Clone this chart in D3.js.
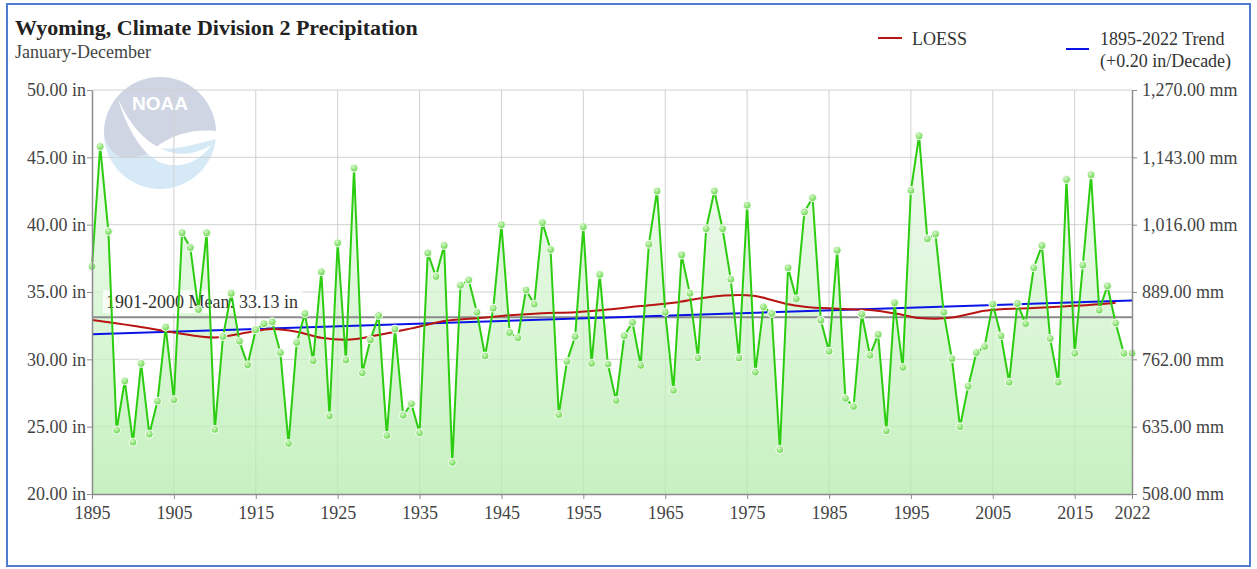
<!DOCTYPE html>
<html><head><meta charset="utf-8">
<script src="https://cdn.jsdelivr.net/npm/d3@7"></script>
<style>
body{margin:0;background:#fff;}
svg{display:block;font-family:"Liberation Serif","Times New Roman",serif;}
</style>
</head><body>
<svg id="chart" width="1257" height="569"></svg>
<script>
// ---------------- DATA ----------------
const years = d3.range(1895, 2023);
const precip = [
 36.9,45.8,39.5,24.75,28.4,23.85,29.7,24.45,26.9,32.4,
 27.0,39.4,38.3,33.7,39.4,24.8,31.7,34.9,31.35,29.6,
 32.2,32.65,32.8,30.5,23.75,31.25,33.4,29.9,36.5,25.8,
 38.65,29.95,44.2,29.0,31.45,33.25,24.35,32.25,25.85,26.7,
 24.55,37.9,36.15,38.45,22.35,35.5,35.9,33.5,30.25,33.8,
 40.0,32.0,31.6,35.15,34.1,40.15,38.15,25.9,29.85,31.7,
 39.85,29.7,36.3,29.65,26.95,31.75,32.75,29.55,38.55,42.5,
 33.5,27.7,37.75,34.9,30.1,39.7,42.5,39.7,35.95,30.1,
 41.45,29.05,33.9,33.4,23.3,36.8,34.5,40.95,42.0,32.9,
 30.6,38.1,27.1,26.5,33.35,30.3,31.85,24.7,34.2,29.4,
 42.55,46.6,38.95,39.3,33.5,30.05,25.0,28.0,30.5,30.95,
 34.1,31.75,28.3,34.15,32.65,36.8,38.45,31.55,28.3,43.35,
 30.45,37.0,43.7,33.65,35.45,32.7,30.45,30.45
];
const loessYears  = [1895,1900,1905,1910,1914,1917,1920,1923,1926,1930,1934,1938,1942,1946,1950,1954,1958,1962,1966,1970,1974,1976,1978,1980,1982,1986,1990,1994,1996,1998,2000,2002,2004,2006,2010,2014,2018,2020];
const loessValues = [32.93,32.5,32.0,31.62,32.0,32.25,32.05,31.6,31.45,31.8,32.3,32.85,33.05,33.27,33.42,33.5,33.7,33.96,34.2,34.6,34.78,34.7,34.41,34.09,33.91,33.76,33.67,33.3,33.07,33.02,33.1,33.35,33.6,33.72,33.81,33.94,34.09,34.2];
const trendYears  = [1895, 2022];
const trendValues = [31.86, 34.36];
const meanValue = 33.13;
const xTickYears = [1895,1905,1915,1925,1935,1945,1955,1965,1975,1985,1995,2005,2015,2022];
const yTicksIn = [20,25,30,35,40,45,50];
const yTicksMm = [508,635,762,889,1016,1143,1270];

// ---------------- LAYOUT ----------------
const L = 92, R = 1132, T = 90, B = 494;
const FS = 18;
const svg = d3.select("#chart");

const x = d3.scaleLinear().domain([1895, 2022]).range([L, R]);
const y = d3.scaleLinear().domain([20, 50]).range([B, T]);
const y2 = d3.scaleLinear().domain([508, 1270]).range([B, T]);

const defs = svg.append("defs");
const ag = defs.append("linearGradient").attr("id","areaGrad")
  .attr("gradientUnits","userSpaceOnUse").attr("x1",0).attr("x2",0).attr("y1",T).attr("y2",B);
ag.append("stop").attr("offset","0%").attr("stop-color","#f7fdf6");
ag.append("stop").attr("offset","100%").attr("stop-color","#c6f1c0");
const pg = defs.append("radialGradient").attr("id","ptGrad").attr("cx","40%").attr("cy","35%").attr("r","65%");
pg.append("stop").attr("offset","0%").attr("stop-color","#d6f7c8");
pg.append("stop").attr("offset","100%").attr("stop-color","#62d646");

// frame
svg.append("rect").attr("x",7).attr("y",4).attr("width",1243).attr("height",562)
  .attr("fill","#fff").attr("stroke","#4f7bd0").attr("stroke-width",2);

// NOAA watermark
const logo = svg.append("g").attr("transform","translate(160,133)");
logo.append("circle").attr("r",56).attr("fill","#d6e9f6");
logo.append("path").attr("d","M-56,0 A56,56 0 0 1 56,0 L56,4 C40,2 20,4 4,14 C-12,22 -26,26 -40,24 C-50,18 -55,10 -56,0 Z").attr("fill","#cfd5e3");
logo.append("path").attr("d","M-42,-34 C-30,-8 -16,8 2,16 C16,22 30,24 52,12 C38,30 20,36 2,30 C-14,24 -30,4 -42,-34 Z").attr("fill","#fff");
logo.append("path").attr("d","M56,-2 C32,-4 12,2 -4,14 C8,18 26,14 56,6 Z").attr("fill","#fff");
logo.append("text").attr("x",0).attr("y",-23).attr("text-anchor","middle")
  .attr("font-family","Liberation Sans, Arial, sans-serif").attr("font-weight","bold")
  .attr("font-size",19).attr("fill","#fff").text("NOAA");

// grid
svg.append("g").selectAll("line").data(yTicksIn.filter(d=>d>20)).join("line")
  .attr("x1",L).attr("x2",R).attr("y1",d=>y(d)).attr("y2",d=>y(d))
  .attr("stroke","#dcdcdc").attr("stroke-width",1);
svg.append("g").selectAll("line").data(xTickYears.filter(d=>d>1895 && d<2022)).join("line")
  .attr("x1",d=>x(d)).attr("x2",d=>x(d)).attr("y1",T).attr("y2",B)
  .attr("stroke","#dcdcdc").attr("stroke-width",1);

// area
const pts = years.map((yr,i)=>({yr, v: precip[i]}));
svg.append("path").datum(pts)
  .attr("d", d3.area().x(d=>x(d.yr)).y0(B).y1(d=>y(d.v)))
  .attr("fill","url(#areaGrad)");

// grid faintly over area
svg.append("g").selectAll("line").data(xTickYears.filter(d=>d>1895 && d<2022)).join("line")
  .attr("x1",d=>x(d)).attr("x2",d=>x(d)).attr("y1",T).attr("y2",B)
  .attr("stroke","#000").attr("stroke-opacity",0.05).attr("stroke-width",1);
svg.append("g").selectAll("line").data(yTicksIn.filter(d=>d>20)).join("line")
  .attr("x1",L).attr("x2",R).attr("y1",d=>y(d)).attr("y2",d=>y(d))
  .attr("stroke","#000").attr("stroke-opacity",0.05).attr("stroke-width",1);

// mean line + label
svg.append("line").attr("x1",L).attr("x2",R).attr("y1",y(meanValue)).attr("y2",y(meanValue))
  .attr("stroke","#8a8a8a").attr("stroke-width",2);
svg.append("rect").attr("x",103).attr("y",y(meanValue)-27).attr("width",200).attr("height",23)
  .attr("fill","#fff").attr("opacity",0.8);
svg.append("text").attr("x",106).attr("y",y(meanValue)-9).attr("font-size",FS).attr("fill","#333")
  .text("1901-2000 Mean: " + meanValue.toFixed(2) + " in");

// trend
svg.append("path").datum(trendYears.map((yr,i)=>({yr, v: trendValues[i]})))
  .attr("d", d3.line().x(d=>x(d.yr)).y(d=>y(d.v)))
  .attr("fill","none").attr("stroke","#0a14e6").attr("stroke-width",2);

// loess
svg.append("path").datum(loessYears.map((yr,i)=>({yr, v: loessValues[i]})))
  .attr("d", d3.line().curve(d3.curveMonotoneX).x(d=>x(d.yr)).y(d=>y(d.v)))
  .attr("fill","none").attr("stroke","#b81414").attr("stroke-width",2);

// data line
svg.append("path").datum(pts)
  .attr("d", d3.line().x(d=>x(d.yr)).y(d=>y(d.v)))
  .attr("fill","none").attr("stroke","#2ccc10").attr("stroke-width",2);

// points
svg.append("g").selectAll("circle").data(pts).join("circle")
  .attr("cx",d=>x(d.yr)).attr("cy",d=>y(d.v)).attr("r",4)
  .attr("fill","url(#ptGrad)").attr("stroke","#fff").attr("stroke-width",1);

// axes
const axisColor = "#8c8c8c";
const gl = svg.append("g").attr("transform",`translate(${L},0)`)
  .call(d3.axisLeft(y).tickValues(yTicksIn).tickSize(5).tickSizeOuter(0).tickFormat(d=>d3.format(".2f")(d)+" in"));
const gr = svg.append("g").attr("transform",`translate(${R},0)`)
  .call(d3.axisRight(y2).tickValues(yTicksMm).tickSize(5).tickSizeOuter(0).tickFormat(d=>d3.format(",.2f")(d)+" mm"));
const gb = svg.append("g").attr("transform",`translate(0,${B})`)
  .call(d3.axisBottom(x).tickValues(xTickYears).tickSize(5).tickSizeOuter(0).tickFormat(d3.format("d")));
[gl,gr,gb].forEach(g=>{
  g.select(".domain").attr("stroke",axisColor).attr("stroke-width",1.5);
  g.selectAll(".tick line").attr("stroke",axisColor);
  g.selectAll("text").attr("font-family","Liberation Serif, Times New Roman, serif")
    .attr("font-size",FS).attr("fill","#444");
});
gl.selectAll("text").attr("x",-6);
gr.selectAll("text").attr("x",10);
gb.selectAll("text").attr("y",12);

// title
svg.append("text").attr("x",15).attr("y",35).attr("font-size",22).attr("font-weight","bold")
  .attr("fill","#222").text("Wyoming, Climate Division 2 Precipitation");
svg.append("text").attr("x",15).attr("y",58).attr("font-size",FS).attr("fill","#444")
  .text("January-December");

// legend
const leg = svg.append("g");
leg.append("line").attr("x1",878).attr("x2",902).attr("y1",38).attr("y2",38).attr("stroke","#b81414").attr("stroke-width",2);
leg.append("text").attr("x",912).attr("y",45).attr("font-size",FS).attr("fill","#333").text("LOESS");
leg.append("line").attr("x1",1066).attr("x2",1089).attr("y1",49).attr("y2",49).attr("stroke","#0a14e6").attr("stroke-width",2);
leg.append("text").attr("x",1100).attr("y",45).attr("font-size",FS).attr("fill","#333").text("1895-2022 Trend");
leg.append("text").attr("x",1100).attr("y",67).attr("font-size",FS).attr("fill","#333").text("(+0.20 in/Decade)");
</script>
</body></html>
